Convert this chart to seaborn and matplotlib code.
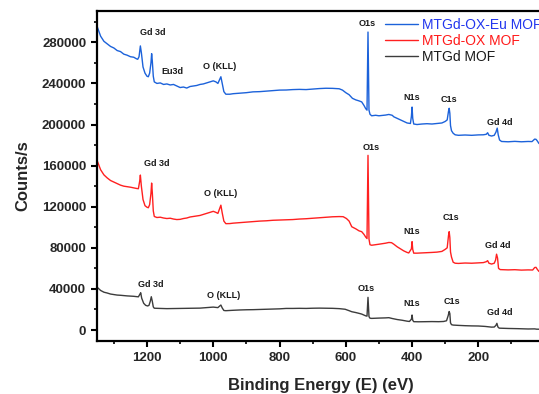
import matplotlib
matplotlib.use("Agg")
import matplotlib.pyplot as plt
import seaborn as sns
import pandas as pd
from matplotlib.ticker import MultipleLocator, FixedLocator

# XPS survey spectra: binding energy (eV) and intensity (counts/s)
eu_energy = [1350, 1340, 1330, 1320, 1310, 1300, 1290, 1280, 1270, 1260, 1250, 1240, 1232, 1228,
             1224, 1220, 1217, 1212, 1206, 1200, 1196, 1192, 1188, 1186, 1184, 1181, 1178, 1170,
             1160, 1150, 1140, 1130, 1120, 1110, 1100, 1090, 1080, 1070, 1060, 1050, 1040, 1030,
             1020, 1010, 1000, 992, 986, 980, 977, 973, 968, 962, 950, 940, 920, 900, 880, 860,
             840, 820, 800, 780, 760, 740, 720, 700, 680, 660, 640, 620, 610, 600, 590, 580, 570,
             560, 552, 545, 540, 536, 533, 530, 527, 522, 510, 500, 490, 480, 470, 460, 455, 445,
             435, 425, 415, 405, 402, 400, 398, 395, 385, 370, 355, 340, 325, 310, 300, 294, 290,
             288, 286, 284, 281, 276, 270, 260, 240, 220, 200, 185, 176, 172, 168, 160, 152, 147,
             143, 140, 136, 130, 110, 90, 70, 50, 38, 30, 26, 22, 17, 0]
eu_counts = [295000, 286000, 281000, 278500, 276000, 274500, 272000, 271000, 268500, 267500,
             266000, 265500, 264000, 263500, 266000, 276500, 270000, 256000, 250000, 247000,
             246500, 250000, 260000, 269000, 262000, 247000, 241500, 240000, 240500, 239000,
             239500, 238500, 239000, 237500, 236000, 236500, 235500, 237000, 237500, 238000,
             239000, 239500, 240500, 241500, 242500, 241500, 240000, 244500, 246500, 240000,
             232000, 229500, 229500, 230000, 230500, 231000, 231800, 232000, 232500, 233000,
             233500, 233600, 234000, 234200, 234000, 234500, 235000, 235300, 235200, 234800,
             233500, 231000, 229000, 225500, 224000, 223000, 222000, 218500, 215500, 214000,
             290000, 214000, 210000, 208500, 209000, 208500, 208800, 209200, 209800, 209000,
             207500, 206000, 204500, 203000, 201500, 201000, 208000, 217000, 206000, 200500,
             200000, 200500, 200800, 200500, 201000, 201500, 203000, 204500, 213000, 215800,
             211000, 199000, 194000, 191500, 190000, 189500, 189800, 189500, 189900, 190000,
             190500, 192000, 189500, 188800, 189500, 192500, 196500, 190000, 185000, 183500,
             183200, 183600, 183200, 183500, 183400, 185800, 185600, 184000, 181500, 181000]

ox_energy = [1350, 1340, 1330, 1320, 1310, 1300, 1290, 1280, 1270, 1260, 1250, 1240, 1232, 1226,
             1222, 1220, 1217, 1212, 1206, 1200, 1196, 1192, 1188, 1186, 1184, 1181, 1178, 1170,
             1160, 1150, 1140, 1130, 1120, 1110, 1100, 1090, 1080, 1070, 1060, 1050, 1040, 1030,
             1020, 1010, 1000, 992, 986, 980, 977, 973, 968, 962, 950, 940, 920, 900, 880, 860,
             840, 820, 800, 780, 760, 740, 720, 700, 680, 660, 640, 620, 608, 598, 590, 582, 570,
             560, 552, 545, 540, 536, 533, 530, 527, 522, 510, 500, 490, 480, 470, 462, 455, 445,
             435, 425, 415, 410, 402, 400, 398, 395, 385, 370, 355, 340, 325, 310, 300, 294, 290,
             288, 286, 284, 281, 276, 270, 260, 240, 220, 200, 185, 176, 172, 168, 160, 152, 148,
             145, 142, 139, 134, 110, 90, 70, 50, 36, 30, 26, 22, 17, 0]
ox_counts = [164500, 156000, 151000, 148000, 145500, 144000, 142500, 141000, 140000, 139500,
             139000, 138300, 137800, 137500, 145000, 150800, 140000, 127000, 121000, 119500,
             119000, 122000, 133000, 143000, 134000, 116000, 110500, 109500, 109800, 109000,
             108500, 108800, 108000, 107500, 107700, 108500, 109000, 110000, 110500, 111000,
             111500, 112500, 113500, 114500, 115500, 114500, 113500, 119000, 121500, 114000,
             106000, 103500, 103600, 104000, 104500, 105000, 105500, 106000, 106300, 106800,
             107000, 107200, 107500, 108000, 108300, 108800, 109200, 109800, 110200, 110400,
             110300, 108500, 106000, 100500, 98500, 96500, 95700, 93000, 90500, 89000,
             170000, 88500, 83000, 82500, 83000, 83500, 84000, 84500, 85200, 85000,
             83500, 81000, 79000, 77000, 75500, 75000, 79000, 86000, 78500, 74800,
             74800, 75000, 75300, 75500, 75800, 76500, 78500, 80000, 92000, 95700,
             90000, 76000, 71000, 66000, 65000, 64800, 65200, 65000, 65300, 65600,
             66500, 67500, 65000, 64200, 65000, 68000, 73800, 70000, 60000, 58800,
             58500, 58700, 58300, 58500, 58400, 60800, 61000, 59000, 57000, 56500]

gd_energy = [1350, 1340, 1330, 1320, 1310, 1300, 1290, 1280, 1270, 1260, 1250, 1240, 1232, 1226,
             1222, 1219, 1216, 1210, 1204, 1198, 1194, 1190, 1187, 1184, 1181, 1178, 1160, 1140,
             1120, 1100, 1080, 1060, 1040, 1020, 1000, 992, 986, 980, 977, 973, 968, 962, 940,
             920, 900, 880, 860, 840, 820, 800, 780, 760, 740, 720, 700, 680, 660, 640, 620, 602,
             590, 582, 570, 560, 552, 545, 540, 536, 533, 530, 527, 522, 500, 480, 470, 460, 445,
             430, 415, 408, 402, 400, 398, 395, 380, 360, 340, 320, 305, 296, 291, 288, 286, 284,
             281, 276, 260, 240, 220, 200, 180, 160, 152, 147, 144, 141, 137, 110, 80, 50, 30,
             24, 0]
gd_counts = [41500, 38500, 36800, 36000, 35000, 34500, 34000, 33800, 33500, 33200, 33000, 32800,
             32500, 32300, 34500, 36300, 31000, 26000, 24000, 23400, 24000, 28000, 32400, 28000,
             22500, 21200, 21000, 20800, 20900, 21000, 21100, 21200, 21300, 21800, 22300, 22000,
             21800, 23500, 24300, 21500, 19000, 18800, 19200, 19500, 19700, 19800, 20000, 20200,
             20400, 20600, 21000, 21000, 21100, 21000, 21200, 21300, 21200, 21100, 20800, 20200,
             18800, 17800, 17000, 16200, 15500, 14500, 13800, 13500, 31800, 13000, 11500, 11300,
             11600, 11800, 12000, 11200, 10200, 9500, 8600, 8300, 10500, 14600, 9500, 8100,
             8000, 8100, 8200, 8100, 8300, 9000, 14000, 18000, 16000, 7000, 5200, 4800, 4500,
             4200, 4000, 3900, 3500, 2800, 2900, 4500, 6500, 3000, 1800, 1500, 1300, 1000, 1100,
             800, 700]

sample_names = ["MTGd-OX-Eu MOF", "MTGd-OX MOF", "MTGd MOF"]
line_colors = ["#1c62da", "#ff2020", "#3c3c3c"]
legend_text_colors = ["#2236ee", "#ff1a1a", "#1a1a1a"]

# Labelled binding-energy ticks
energy_ticks = [1200, 1000, 800, 600, 400, 200]

# Peak labels: (text, energy, counts) for each spectrum
eu_labels = [("Gd 3d", 1183, 289300), ("Eu3d", 1123, 251400), ("O (KLL)", 980, 256200),
             ("O1s", 534, 298500), ("N1s", 401, 226400), ("C1s", 290, 224800),
             ("Gd 4d", 136, 202100)]
ox_labels = [("Gd 3d", 1170, 162200), ("O (KLL)", 977, 132400), ("O1s", 524, 177800),
             ("N1s", 401, 95700), ("C1s", 283, 109300), ("Gd 4d", 140, 82700)]
gd_labels = [("Gd 3d", 1188, 44500), ("O (KLL)", 970, 33100), ("O1s", 538, 40600),
             ("N1s", 401, 26000), ("C1s", 280, 28200), ("Gd 4d", 136, 16800)]

frames = []
for name, e, c in zip(sample_names, [eu_energy, ox_energy, gd_energy],
                      [eu_counts, ox_counts, gd_counts]):
    frames.append(pd.DataFrame({"energy": e, "counts": c, "sample": name}))
spectra = pd.concat(frames, ignore_index=True)

sns.set_theme(style="ticks")
plt.rcParams["font.family"] = ["Liberation Sans", "DejaVu Sans"]

fig = plt.figure(figsize=(5.39, 3.94), dpi=100)
ax = fig.add_axes([0.1805, 0.1353, 0.8299, 0.8368])

sns.lineplot(data=spectra, x="energy", y="counts", hue="sample", hue_order=sample_names,
             palette=line_colors, sort=False, estimator=None, linewidth=1.0, ax=ax)

ax.set_xlim(1350, 0)
ax.set_ylim(-10400, 310500)
ax.xaxis.set_major_locator(FixedLocator(energy_ticks))
ax.xaxis.set_minor_locator(MultipleLocator(100))
ax.yaxis.set_major_locator(MultipleLocator(40000))
ax.yaxis.set_minor_locator(MultipleLocator(20000))
ax.tick_params(which="major", direction="out", length=4.5, width=1.5, pad=3.5,
               labelsize=9.5, color="black")
ax.tick_params(which="minor", direction="out", length=2.5, width=1.2, color="black")
for lab in ax.get_xticklabels() + ax.get_yticklabels():
    lab.set_fontweight("bold")
for side in ["top", "right", "bottom", "left"]:
    ax.spines[side].set_visible(True)
    ax.spines[side].set_linewidth(1.6)
    ax.spines[side].set_color("black")

ax.set_xlabel("Binding Energy (E) (eV)", fontsize=12, fontweight="bold", labelpad=10)
ax.set_ylabel("Counts/s", fontsize=12, fontweight="bold", labelpad=8)

for labels in (eu_labels, ox_labels, gd_labels):
    for text, e, c in labels:
        ax.text(e, c, text, ha="center", va="center", fontsize=6.5,
                fontweight="bold", color="#1a1a1a")

leg = ax.legend(loc="upper left", bbox_to_anchor=(0.714, 0.955),
                bbox_transform=fig.transFigure, frameon=False, fontsize=10,
                handlelength=2.4, handletextpad=0.25, labelspacing=0.15,
                borderpad=0, borderaxespad=0, title=None)
for txt, col in zip(leg.get_texts(), legend_text_colors):
    txt.set_color(col)
for line in leg.get_lines():
    line.set_linewidth(1.0)

fig.savefig("out.png", dpi=100)
